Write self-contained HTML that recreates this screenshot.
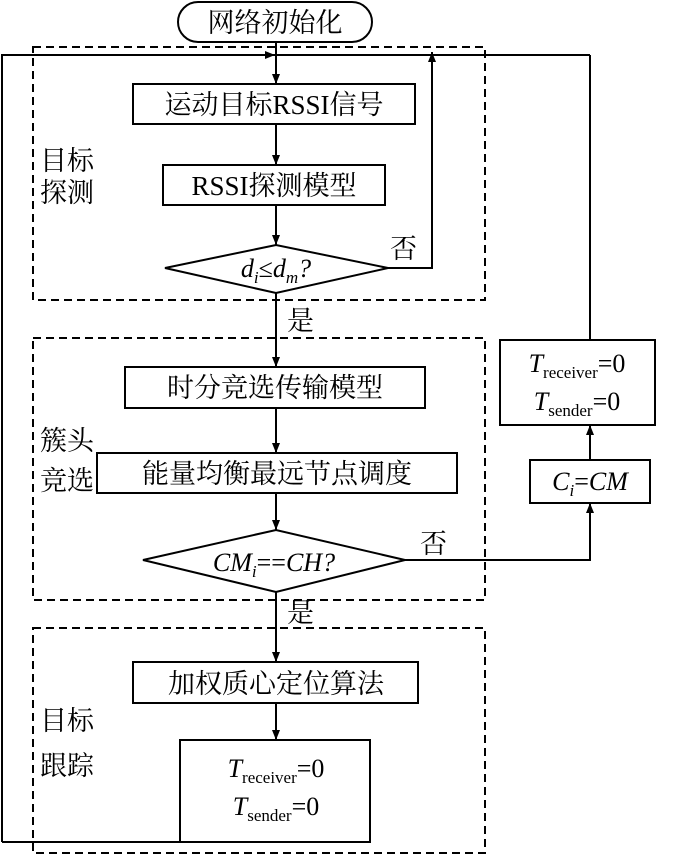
<!DOCTYPE html>
<html><head><meta charset="utf-8"><style>
html,body{margin:0;padding:0;background:#fff;}
svg{display:block;}
text{font-family:"Liberation Serif","Noto Serif CJK SC","Noto Sans CJK SC",serif;fill:#000;}
</style></head><body>
<svg width="684" height="856" viewBox="0 0 684 856" xmlns="http://www.w3.org/2000/svg">
<defs>
<marker id="a" viewBox="0 0 10 10" refX="10" refY="5" markerWidth="10" markerHeight="10" markerUnits="userSpaceOnUse" orient="auto">
<path d="M0,1 L10,5 L0,9 Z" fill="#000"/></marker>
</defs>
<g fill="none" stroke="#000" stroke-width="2">
<!-- dashed groups -->
<rect x="33" y="47" width="452" height="253" stroke-dasharray="8,5"/>
<rect x="33" y="338" width="452" height="262" stroke-dasharray="8,5"/>
<rect x="33" y="628" width="452" height="225" stroke-dasharray="8,5"/>
<!-- terminal -->
<rect x="178" y="2" width="194" height="40" rx="20"/>
<!-- boxes -->
<rect x="133" y="84" width="282" height="40"/>
<rect x="163" y="165" width="222" height="40"/>
<polygon points="165,268 276,245 388,268 276,293"/>
<rect x="125" y="367" width="300" height="41"/>
<rect x="97" y="453" width="360" height="40"/>
<polygon points="143,560 276,530 405,560 276,592"/>
<rect x="133" y="662" width="285" height="41"/>
<rect x="180" y="740" width="190" height="102"/>
<rect x="530" y="460" width="120" height="43"/>
<rect x="500" y="340" width="155" height="85"/>
<!-- connectors -->
<line x1="276" y1="42" x2="276" y2="84" marker-end="url(#a)"/>
<polyline points="2,842 2,55 590,55"/>
<line x1="2" y1="842" x2="180" y2="842"/>
<line x1="200" y1="55" x2="275" y2="55" marker-end="url(#a)"/>
<line x1="276" y1="124" x2="276" y2="165" marker-end="url(#a)"/>
<line x1="276" y1="205" x2="276" y2="245" marker-end="url(#a)"/>
<polyline points="388,268 432,268 432,52" marker-end="url(#a)"/>
<line x1="276" y1="293" x2="276" y2="367" marker-end="url(#a)"/>
<line x1="276" y1="408" x2="276" y2="453" marker-end="url(#a)"/>
<line x1="276" y1="493" x2="276" y2="530" marker-end="url(#a)"/>
<line x1="276" y1="592" x2="276" y2="662" marker-end="url(#a)"/>
<line x1="276" y1="703" x2="276" y2="740" marker-end="url(#a)"/>
<polyline points="405,560 590,560 590,503" marker-end="url(#a)"/>
<line x1="590" y1="460" x2="590" y2="425" marker-end="url(#a)"/>
<line x1="590" y1="340" x2="590" y2="55"/>
</g>
<g font-size="27">
<text x="275" y="32" text-anchor="middle">网络初始化</text>
<text x="274" y="114" text-anchor="middle">运动目标RSSI信号</text>
<text x="274" y="195" text-anchor="middle">RSSI探测模型</text>
<text x="275" y="397" text-anchor="middle">时分竞选传输模型</text>
<text x="277" y="483" text-anchor="middle">能量均衡最远节点调度</text>
<text x="276" y="693" text-anchor="middle">加权质心定位算法</text>
<text x="40" y="170">目标</text>
<text x="40" y="202">探测</text>
<text x="40" y="450">簇头</text>
<text x="40" y="490">竞选</text>
<text x="40" y="730">目标</text>
<text x="40" y="775">跟踪</text>
<text x="390" y="258">否</text>
<text x="420" y="553">否</text>
<text x="287" y="330">是</text>
<text x="287" y="622">是</text>
</g>
<g font-size="26" font-style="italic">
<text x="276" y="277" text-anchor="middle">d<tspan font-size="17" dy="6">i</tspan><tspan dy="-6" font-style="normal">≤</tspan>d<tspan font-size="17" dy="6">m</tspan><tspan dy="-6">?</tspan></text>
<text x="274" y="571" text-anchor="middle">CM<tspan font-size="17" dy="6">i</tspan><tspan dy="-6" font-style="normal">==</tspan>CH?</text>
<text x="590" y="490" text-anchor="middle">C<tspan font-size="17" dy="6">i</tspan><tspan dy="-6" font-style="normal">=</tspan>CM</text>
<text x="577" y="372" text-anchor="middle">T<tspan font-size="17" font-style="normal" dy="6">receiver</tspan><tspan dy="-6" font-style="normal">=0</tspan></text>
<text x="577" y="410" text-anchor="middle">T<tspan font-size="17" font-style="normal" dy="6">sender</tspan><tspan dy="-6" font-style="normal">=0</tspan></text>
<text x="276" y="777" text-anchor="middle">T<tspan font-size="17" font-style="normal" dy="6">receiver</tspan><tspan dy="-6" font-style="normal">=0</tspan></text>
<text x="276" y="815" text-anchor="middle">T<tspan font-size="17" font-style="normal" dy="6">sender</tspan><tspan dy="-6" font-style="normal">=0</tspan></text>
</g>
</svg>
</body></html>
